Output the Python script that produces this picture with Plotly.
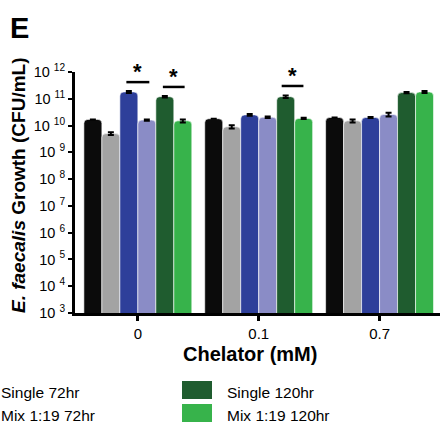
import plotly.graph_objects as go

categories = ["0", "0.1", "0.7"]
series_names = ["Single 24hr", "Mix 1:19 24hr", "Single 72hr", "Mix 1:19 72hr", "Single 120hr", "Mix 1:19 120hr"]
series_colors = ["#0b0b0b", "#a3a3a3", "#2e3f9a", "#8a8cc6", "#1f5c2f", "#37b34b"]
values = [
    [1.7e10, 1.8e10, 2.0e10],
    [5.0e9, 9.0e9, 1.5e10],
    [1.8e11, 2.5e10, 2.0e10],
    [1.6e10, 2.05e10, 2.6e10],
    [1.2e11, 1.2e11, 1.7e11],
    [1.5e10, 1.85e10, 1.8e11],
]
errors = [
    [0.0, 0.0, 0.0],
    [0.6e9, 1.2e9, 2.0e9],
    [0.15e11, 0.2e10, 0.1e10],
    [0.1e10, 0.15e10, 0.4e10],
    [0.08e11, 0.12e11, 0.1e11],
    [0.2e10, 0.1e10, 0.15e11],
]
ytick_exps = [3, 4, 5, 6, 7, 8, 9, 10, 11, 12]
legend_items_visible = [("Single 72hr", None), ("Mix 1:19 72hr", None),
                        ("Single 120hr", "#1f5c2f"), ("Mix 1:19 120hr", "#37b34b")]
sig_pairs = [(0.0, 0.958, 0.095), (0.297, 0.938, 0.09), (1.28, 0.942, 0.09)]

FONT = "Liberation Sans, Arial, sans-serif"

fig = go.Figure()
for name, color, vals, errs in zip(series_names, series_colors, values, errors):
    fig.add_trace(go.Bar(
        x=categories, y=vals, name=name,
        marker=dict(color=color, line=dict(color="white", width=0.6)),
        error_y=dict(type="data", array=errs, visible=True, color="black", thickness=2, width=3),
        showlegend=False,
    ))

fig.update_layout(
    width=440, height=426,
    margin=dict(l=75, r=0, t=72, b=113),
    paper_bgcolor="white", plot_bgcolor="white",
    barmode="group", bargap=0.107, bargroupgap=0.0,
    barcornerradius=4,
    font=dict(family=FONT, color="black", size=13),
    xaxis=dict(
        type="category", range=[-0.52, 2.5],
        showline=True, linecolor="black", linewidth=3,
        ticks="outside", ticklen=5, tickwidth=3, tickcolor="black",
        tickfont=dict(size=15, family=FONT),
        showgrid=False, zeroline=False,
    ),
    yaxis=dict(
        type="log", range=[3, 12],
        showline=True, linecolor="black", linewidth=3,
        ticks="outside", ticklen=4, tickwidth=2, tickcolor="black",
        tickvals=[10 ** e for e in ytick_exps],
        ticktext=["10 <sup>%d</sup>" % e for e in ytick_exps],
        tickfont=dict(size=14.5, family=FONT),
        showgrid=False, zeroline=False,
    ),
)

def px_x(px):
    return (px - 75) / 365

def px_y(py):
    return (313 - py) / 241

# Axis titles
fig.add_annotation(text="<b>Chelator (mM)</b>", xref="paper", yref="paper", x=px_x(250), y=px_y(354),
                   xanchor="center", yanchor="middle", showarrow=False, font=dict(size=20, family=FONT))
fig.add_annotation(text="<b><i>E. faecalis</i> Growth (CFU/mL)</b>", xref="paper", yref="paper",
                   x=px_x(18), y=px_y(186), textangle=-90,
                   xanchor="center", yanchor="middle", showarrow=False, font=dict(size=19, family=FONT))

# Panel label
fig.add_annotation(text="<b>E</b>", xref="paper", yref="paper", x=(8 - 75) / 365, y=(313 - 28) / 241,
                   xanchor="left", yanchor="middle", showarrow=False, font=dict(size=29, family=FONT))

# Significance bars
for xc, yp, hw in sig_pairs:
    fig.add_shape(type="line", xref="x", yref="paper", x0=xc - hw, x1=xc + hw, y0=yp, y1=yp,
                  line=dict(color="black", width=2.5))
    fig.add_annotation(text="<b>*</b>", xref="x", yref="paper", x=xc, y=yp, yanchor="bottom",
                       showarrow=False, yshift=-4, font=dict(size=22, family=FONT))

# Legend (partially visible)
rows = [392, 415]
for i, (label, color) in enumerate(legend_items_visible):
    row = rows[i % 2]
    if color is None:
        fig.add_annotation(text=label, xref="paper", yref="paper", x=px_x(-1), y=px_y(row),
                           xanchor="left", yanchor="middle", showarrow=False, font=dict(size=15.5, family=FONT))
    else:
        fig.add_shape(type="rect", xref="paper", yref="paper", x0=px_x(182), x1=px_x(212),
                      y0=px_y(row - 11), y1=px_y(row + 7), fillcolor=color, line=dict(width=0),
                      layer="above")
        fig.add_annotation(text=label, xref="paper", yref="paper", x=px_x(225), y=px_y(row),
                           xanchor="left", yanchor="middle", showarrow=False, font=dict(size=15.5, family=FONT))

fig.write_html("out.html")
